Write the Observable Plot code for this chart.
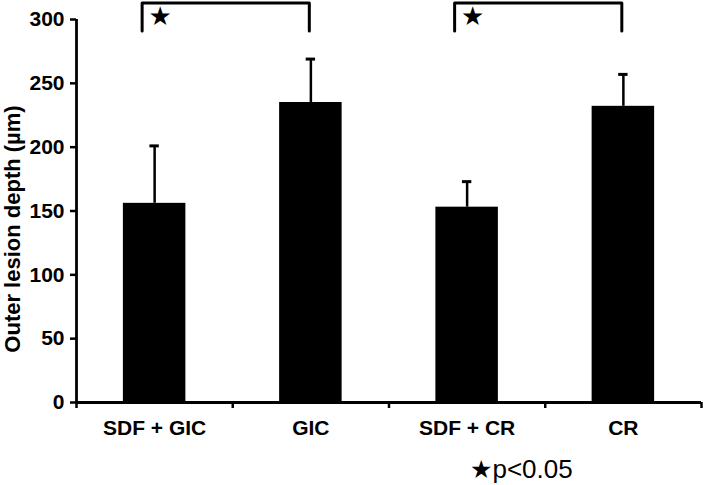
<!DOCTYPE html>
<html>
<head>
<meta charset="utf-8">
<script src="https://cdn.jsdelivr.net/npm/d3@7"></script>
<script src="https://cdn.jsdelivr.net/npm/@observablehq/plot@0.6"></script>
<style>
  body { margin: 0; background: #fff; }
  #chart svg { display: block; }
  #caption { font-family: "Liberation Sans", Arial, sans-serif; font-size: 26px; line-height: 26px; margin-top: 6px; padding-left: 470px; color: #000; }
  #caption .star { font-family: "DejaVu Sans", sans-serif; font-size: 25px; }
</style>
</head>
<body>
<div id="chart"></div>
<div id="caption"><span class="star">★</span>p&lt;0.05</div>
<script>
// Data
const categories = ["SDF + GIC", "GIC", "SDF + CR", "CR"];
const means = [156, 235, 153, 232];
const sds = [45, 34, 20, 25];
const yTicks = [0, 50, 100, 150, 200, 250, 300];
const yTitle = "Outer lesion depth (µm)";
// significance brackets: pairs of category indices
const brackets = [[0, 1], [2, 3]];
const bracketLow = 291, bracketHigh = 313, starLevel = 302.5;

const rows = categories.map((c, i) => ({i, c, mean: means[i], top: means[i] + sds[i]}));
const bracketPaths = brackets.flatMap(([a, b], k) => [
  {k, x: a + 0.42, y: bracketLow},
  {k, x: a + 0.42, y: bracketHigh},
  {k, x: b + 0.49, y: bracketHigh},
  {k, x: b + 0.49, y: bracketLow}
]);

const plot = Plot.plot({
  width: 703,
  height: 450,
  marginTop: 19,
  marginBottom: 48,
  marginLeft: 76,
  marginRight: 2,
  style: {fontFamily: "'Liberation Sans', Arial, sans-serif", fontSize: "21px", fontWeight: "bold", color: "#000", background: "#fff"},
  x: {type: "linear", domain: [0, categories.length]},
  y: {domain: [0, 300]},
  marks: [
    Plot.rect(rows, {x1: d => d.i + 0.3, x2: d => d.i + 0.7, y1: 0, y2: "mean", fill: "#000"}),
    Plot.ruleX(rows, {x: d => d.i + 0.5, y1: "mean", y2: "top", stroke: "#000", strokeWidth: 2.5}),
    Plot.ruleY(rows, {y: "top", x1: d => d.i + 0.47, x2: d => d.i + 0.53, stroke: "#000", strokeWidth: 3}),
    Plot.ruleX([0], {y1: 0, y2: 300, stroke: "#000", strokeWidth: 2.8}),
    Plot.ruleY([0], {stroke: "#000", strokeWidth: 2.8}),
    Plot.axisY({ticks: yTicks, tickSize: 6, tickPadding: 6, strokeWidth: 2.5, label: null}),
    Plot.axisX({ticks: d3.range(categories.length + 1), tickFormat: () => "", tickSize: 6, strokeWidth: 2.5, label: null}),
    Plot.axisX({ticks: categories.map((c, i) => i + 0.5), tickFormat: v => categories[Math.floor(v)], tickSize: 0, tickPadding: 18, label: null}),
    Plot.line(bracketPaths, {x: "x", y: "y", z: "k", stroke: "#000", strokeWidth: 3, curve: "linear"}),
    Plot.text(brackets, {x: ([a]) => a + 0.535, y: () => starLevel, text: () => "★", fontFamily: "DejaVu Sans", fontSize: 26, fontWeight: "normal"}),
    Plot.text([yTitle], {text: d => d, frameAnchor: "left", textAnchor: "middle", rotate: -90, dx: -64, dy: 18, fontSize: 22, fontWeight: "bold"})
  ]
});
document.getElementById("chart").appendChild(plot);
</script>
</body>
</html>
